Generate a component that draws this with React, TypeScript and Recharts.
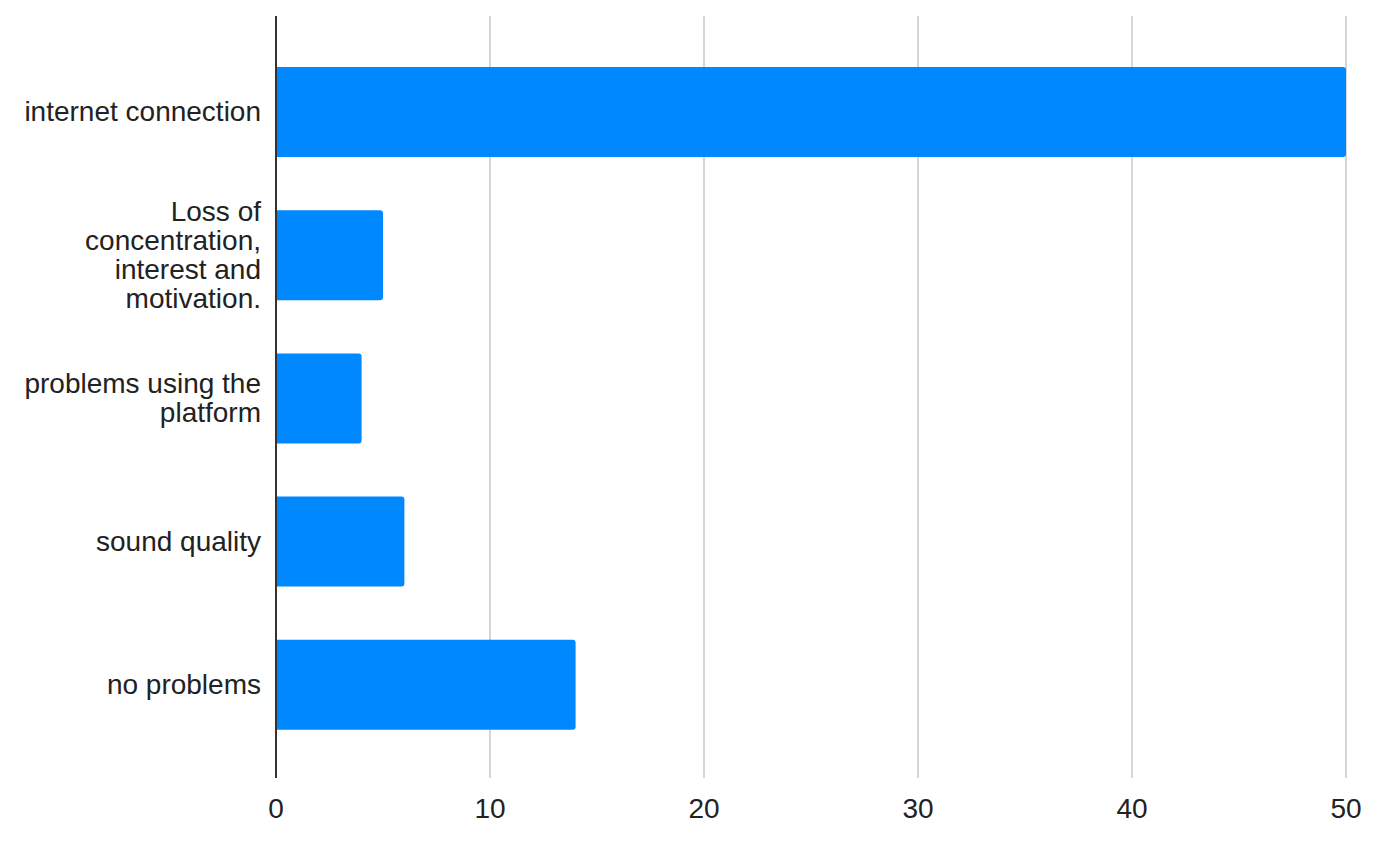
import { Bar, BarChart, CartesianGrid, XAxis, YAxis } from "recharts";

const categories = [
  "internet connection",
  "Loss of concentration, interest and motivation.",
  "problems using the platform",
  "sound quality",
  "no problems",
];
// how each category label is broken over lines on the axis
const categoryLines = [
  ["internet connection"],
  ["Loss of", "concentration,", "interest and", "motivation."],
  ["problems using the", "platform"],
  ["sound quality"],
  ["no problems"],
];
const counts = [50, 5, 4, 6, 14];
const xTicks = [0, 10, 20, 30, 40, 50];

const data = categories.map((name, i) => ({ name, value: counts[i] }));

const FONT = "'Liberation Sans', Arial, sans-serif";
const FONT_SIZE = 28;
const LINE_HEIGHT = 29;

function CategoryTick(props: any) {
  const { x, y, index } = props;
  const lines = categoryLines[index] ?? [props.payload.value];
  const first = y - ((lines.length - 1) * LINE_HEIGHT) / 2 + FONT_SIZE * 0.35;
  return (
    <text
      x={x}
      y={first}
      textAnchor="end"
      fontSize={FONT_SIZE}
      fontFamily={FONT}
      fill="#222"
    >
      {lines.map((line, i) => (
        <tspan key={i} x={x} dy={i === 0 ? 0 : LINE_HEIGHT}>
          {line}
        </tspan>
      ))}
    </text>
  );
}

export default function App() {
  return (
    <div style={{ position: "absolute", left: 0, top: 0, background: "#fff" }}>
      <BarChart
        width={1380}
        height={847}
        data={data}
        layout="vertical"
        margin={{ top: 16, right: 34, bottom: 19, left: 0 }}
      >
        <CartesianGrid horizontal={false} stroke="#d6d6d6" strokeWidth={2} />
        <XAxis
          type="number"
          domain={[0, 50]}
          ticks={xTicks}
          axisLine={false}
          tickLine={false}
          tickSize={0}
          tickMargin={20}
          height={50}
          tick={{ fontSize: FONT_SIZE, fontFamily: FONT, fill: "#222" }}
        />
        <YAxis
          type="category"
          dataKey="name"
          width={276}
          axisLine={{ stroke: "#333", strokeWidth: 2 }}
          tickLine={false}
          tickSize={0}
          tickMargin={15}
          padding={{ top: 24, bottom: 22 }}
          tick={<CategoryTick />}
          interval={0}
        />
        <Bar
          dataKey="value"
          fill="#0088ff"
          barSize={90}
          radius={[0, 3, 3, 0]}
          isAnimationActive={false}
        />
      </BarChart>
    </div>
  );
}
